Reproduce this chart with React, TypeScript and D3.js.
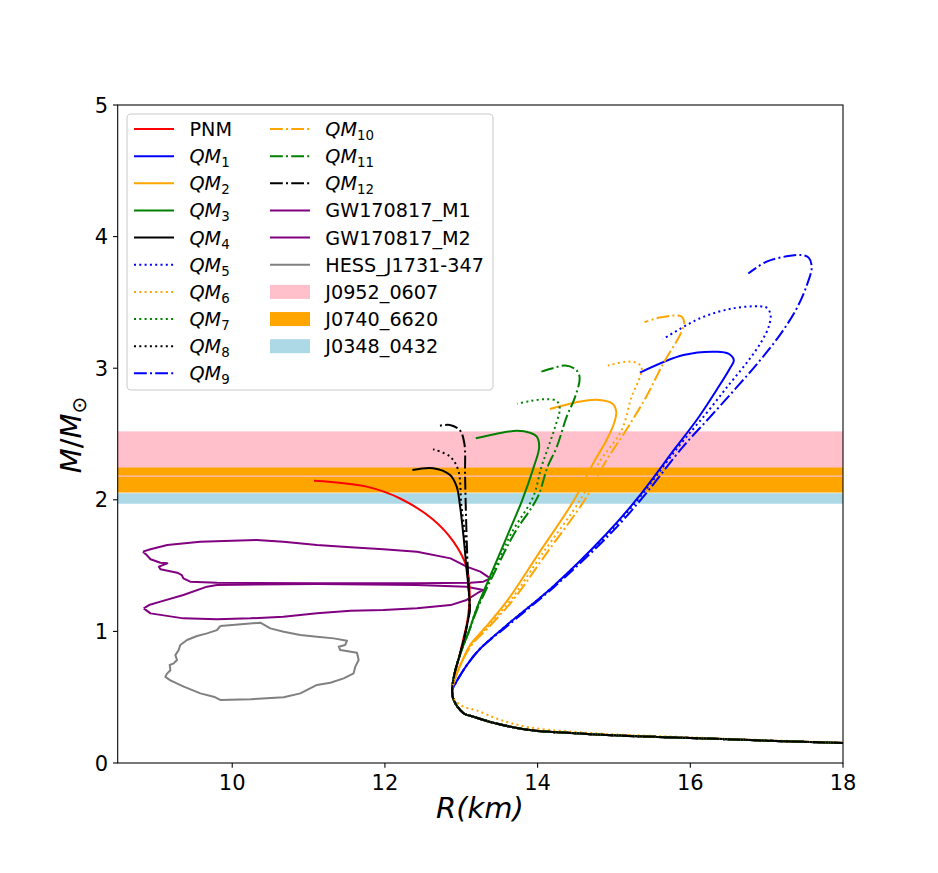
import React, { useEffect } from 'react';
import * as d3 from 'd3';

type P = [number, number];

const W = 938, H = 873;
const PL = 117.7, PR = 843, PT = 105, PB = 763;

const xDomain: P = [8.5, 18];
const yDomain: P = [0, 5];
const xTicks = [10, 12, 14, 16, 18];
const yTicks = [0, 1, 2, 3, 4, 5];

// common low-mass branch (R, M), from large R to the nose
const tail: P[] = [[18.6, 0.142], [18.0, 0.152], [17.0, 0.17], [16.0, 0.19], [15.0, 0.21], [14.5, 0.226], [13.9, 0.25], [13.46, 0.30], [13.16, 0.352], [13.03, 0.378], [12.9, 0.479], [12.88, 0.55]];
const tailQM6: P[] = [[18.6, 0.145], [18.0, 0.155], [17.0, 0.173], [16.0, 0.195], [15.0, 0.218], [14.5, 0.236], [13.9, 0.27], [13.5, 0.33], [13.2, 0.4], [13.02, 0.43], [12.9, 0.49], [12.88, 0.55]];

const pnm: P[] = [[11.07, 2.145], [11.76, 2.10], [12.2, 2.01], [12.63, 1.85], [12.9, 1.68], [13.07, 1.49], [13.11, 1.3], [13.08, 1.08], [13.03, 0.95], [12.97, 0.8], [12.92, 0.68], [12.88, 0.55]];

const qm1: P[] = [[12.92, 0.6], [12.98, 0.66], [13.08, 0.75], [13.25, 0.87], [13.58, 1.04], [14.2, 1.34], [14.9, 1.74], [15.32, 2.02], [15.8, 2.39], [16.1, 2.62], [16.35, 2.84], [16.52, 3.0], [16.57, 3.06], [16.5, 3.11], [16.35, 3.125], [15.91, 3.10], [15.34, 2.966]];
const qm5: P[] = [[12.92, 0.6], [12.98, 0.66], [13.08, 0.75], [13.25, 0.87], [13.58, 1.04], [14.2, 1.34], [14.92, 1.74], [15.34, 2.02], [15.84, 2.4], [16.2, 2.65], [16.5, 2.87], [16.75, 3.05], [16.93, 3.2], [17.03, 3.32], [17.05, 3.41], [17.0, 3.46], [16.91, 3.47], [16.56, 3.455], [16.13, 3.38], [15.64, 3.22]];
const qm9: P[] = [[12.92, 0.6], [12.98, 0.66], [13.08, 0.75], [13.25, 0.87], [13.6, 1.04], [14.22, 1.34], [14.95, 1.74], [15.38, 2.02], [15.9, 2.4], [16.26, 2.63], [16.6, 2.85], [16.9, 3.05], [17.17, 3.25], [17.38, 3.44], [17.52, 3.62], [17.59, 3.77], [17.55, 3.84], [17.45, 3.86], [17.26, 3.85], [17.0, 3.81], [16.76, 3.72]];

const qm2: P[] = [[12.93, 0.66], [13.0, 0.76], [13.12, 0.9], [13.3, 1.02], [13.61, 1.24], [14.0, 1.58], [14.48, 2.0], [14.73, 2.28], [14.9, 2.45], [15.0, 2.58], [15.03, 2.67], [14.98, 2.73], [14.77, 2.76], [14.5, 2.74], [14.16, 2.69]];
const qm6: P[] = [[12.93, 0.66], [13.0, 0.76], [13.13, 0.9], [13.32, 1.02], [13.65, 1.24], [14.05, 1.58], [14.58, 2.02], [14.8, 2.28], [15.1, 2.53], [15.23, 2.78], [15.35, 2.95], [15.36, 3.01], [15.3, 3.04], [15.17, 3.05], [14.92, 3.02]];
const qm10: P[] = [[12.93, 0.66], [13.0, 0.76], [13.14, 0.9], [13.34, 1.02], [13.68, 1.24], [14.1, 1.58], [14.64, 2.02], [14.88, 2.28], [15.16, 2.53], [15.42, 2.78], [15.65, 3.04], [15.88, 3.27], [15.92, 3.35], [15.88, 3.395], [15.78, 3.40], [15.6, 3.385], [15.4, 3.35]];

const qm3: P[] = [[12.92, 0.7], [13.0, 0.85], [13.1, 1.0], [13.2, 1.17], [13.43, 1.49], [13.62, 1.75], [13.8, 2.0], [13.95, 2.25], [14.02, 2.4], [13.99, 2.48], [13.9, 2.51], [13.73, 2.525], [13.45, 2.5], [13.19, 2.467]];
const qm7: P[] = [[12.92, 0.7], [13.0, 0.85], [13.1, 1.0], [13.2, 1.17], [13.45, 1.49], [13.66, 1.75], [13.94, 2.02], [14.05, 2.25], [14.14, 2.40], [14.23, 2.556], [14.29, 2.695], [14.25, 2.75], [14.1, 2.765], [13.9, 2.75], [13.73, 2.73]];
const qm11: P[] = [[12.92, 0.7], [13.0, 0.85], [13.1, 1.0], [13.21, 1.17], [13.47, 1.49], [13.7, 1.75], [14.0, 2.02], [14.13, 2.25], [14.25, 2.40], [14.38, 2.63], [14.49, 2.78], [14.55, 2.93], [14.5, 2.99], [14.36, 3.02], [14.2, 3.0], [14.05, 2.974]];

const qm4: P[] = [[12.92, 0.7], [12.98, 0.82], [13.04, 0.95], [13.08, 1.06], [13.11, 1.16], [13.1, 1.3], [13.07, 1.47], [13.03, 1.72], [12.98, 1.97], [12.94, 2.10], [12.85, 2.19], [12.63, 2.24], [12.36, 2.226]];
const qm8: P[] = [[12.92, 0.7], [12.98, 0.82], [13.04, 0.95], [13.08, 1.06], [13.11, 1.16], [13.1, 1.3], [13.08, 1.47], [13.05, 1.72], [13.0, 1.97], [12.96, 2.226], [12.85, 2.33], [12.63, 2.384]];
const qm12: P[] = [[12.92, 0.7], [12.98, 0.82], [13.04, 0.95], [13.08, 1.06], [13.11, 1.16], [13.1, 1.3], [13.08, 1.55], [13.06, 1.92], [13.05, 2.18], [13.04, 2.43], [12.98, 2.53], [12.85, 2.568], [12.7, 2.561]];

const gwM1: P[] = [[8.83, 1.606], [8.93, 1.624], [9.15, 1.657], [9.58, 1.682], [10.32, 1.695], [10.67, 1.682], [11.11, 1.657], [11.55, 1.639], [11.98, 1.624], [12.42, 1.606], [12.86, 1.555], [13.07, 1.492], [13.25, 1.454], [13.38, 1.403], [13.29, 1.378], [13.12, 1.37], [12.42, 1.365], [11.11, 1.365], [9.8, 1.37], [9.45, 1.378], [9.36, 1.403], [9.34, 1.428], [9.28, 1.446], [9.06, 1.472], [9.04, 1.492], [9.15, 1.517], [9.06, 1.522], [8.93, 1.548], [8.88, 1.58], [8.83, 1.606]];
const gwM2: P[] = [[8.84, 1.175], [8.91, 1.2], [9.06, 1.226], [9.36, 1.277], [9.67, 1.34], [9.8, 1.353], [11.11, 1.36], [12.42, 1.353], [13.07, 1.34], [13.29, 1.315], [13.21, 1.29], [13.07, 1.239], [12.86, 1.2], [12.42, 1.175], [11.98, 1.163], [11.55, 1.157], [11.11, 1.137], [10.67, 1.112], [10.24, 1.099], [9.8, 1.092], [9.36, 1.099], [8.93, 1.137], [8.84, 1.175]];
const hess: P[] = [[9.844, 1.041], [10.368, 1.066], [10.499, 1.023], [10.674, 0.998], [10.892, 0.973], [11.11, 0.96], [11.33, 0.947], [11.503, 0.929], [11.48, 0.897], [11.395, 0.884], [11.415, 0.859], [11.634, 0.838], [11.656, 0.783], [11.612, 0.732], [11.59, 0.681], [11.46, 0.643], [11.285, 0.61], [11.11, 0.593], [10.892, 0.529], [10.674, 0.499], [10.24, 0.484], [9.844, 0.479], [9.757, 0.504], [9.583, 0.529], [9.365, 0.58], [9.19, 0.628], [9.124, 0.654], [9.146, 0.679], [9.19, 0.705], [9.181, 0.745], [9.233, 0.757], [9.277, 0.783], [9.255, 0.82], [9.299, 0.859], [9.32, 0.897], [9.408, 0.935], [9.539, 0.965], [9.67, 0.985], [9.8, 1.01], [9.844, 1.041]];

// mass bands [low, high]
const bandJ0952: P = [2.18, 2.52];
const bandJ0740: P = [2.055, 2.245];
const bandJ0348: P = [1.97, 2.05];

const C = { red: '#ff0000', blue: '#0000ff', orange: '#ffa500', green: '#008000', black: '#000000', purple: '#800080', gray: '#808080', pink: '#ffc0cb', lightblue: '#add8e6' };
const DOT = '2,3.3';
const DASHDOT = '12.8,3.2,2,3.2';

interface Series { label: string; sub?: string; data: P[]; color: string; dash?: string; }

const series: Series[] = [
  { label: 'PNM', data: [...tail.slice(0, -1), ...pnm.slice().reverse()], color: C.red },
  { label: 'QM', sub: '1', data: [...tail, ...qm1], color: C.blue },
  { label: 'QM', sub: '2', data: [...tail, ...qm2], color: C.orange },
  { label: 'QM', sub: '3', data: [...tail, ...qm3], color: C.green },
  { label: 'QM', sub: '4', data: [...tail, ...qm4], color: C.black },
  { label: 'QM', sub: '5', data: [...tail, ...qm5], color: C.blue, dash: DOT },
  { label: 'QM', sub: '6', data: [...tailQM6, ...qm6], color: C.orange, dash: DOT },
  { label: 'QM', sub: '7', data: [...tail, ...qm7], color: C.green, dash: DOT },
  { label: 'QM', sub: '8', data: [...tail, ...qm8], color: C.black, dash: DOT },
  { label: 'QM', sub: '9', data: [...tail, ...qm9], color: C.blue, dash: DASHDOT },
  { label: 'QM', sub: '10', data: [...tail, ...qm10], color: C.orange, dash: DASHDOT },
  { label: 'QM', sub: '11', data: [...tail, ...qm11], color: C.green, dash: DASHDOT },
  { label: 'QM', sub: '12', data: [...tail, ...qm12], color: C.black, dash: DASHDOT },
];

const contours = [
  { label: 'GW170817_M1', data: gwM1, color: C.purple },
  { label: 'GW170817_M2', data: gwM2, color: C.purple },
  { label: 'HESS_J1731-347', data: hess, color: C.gray },
];

const bands = [
  { label: 'J0952_0607', range: bandJ0952, color: C.pink },
  { label: 'J0740_6620', range: bandJ0740, color: C.orange },
  { label: 'J0348_0432', range: bandJ0348, color: C.lightblue },
];

const FONT = 'DejaVu Sans, sans-serif';

export default function App() {
  useEffect(() => { document.body.style.margin = '0'; }, []);
  const x = d3.scaleLinear().domain(xDomain).range([PL, PR]);
  const y = d3.scaleLinear().domain(yDomain).range([PB, PT]);
  const line = d3.line<P>().x(d => x(d[0])).y(d => y(d[1])).curve(d3.curveCatmullRom.alpha(0.5));
  const lineLin = d3.line<P>().x(d => x(d[0])).y(d => y(d[1]));

  const legendItems: { kind: 'line' | 'patch'; label: string; sub?: string; color: string; dash?: string }[] = [
    ...series.map(s => ({ kind: 'line' as const, label: s.label, sub: s.sub, color: s.color, dash: s.dash })),
    ...contours.map(c => ({ kind: 'line' as const, label: c.label, color: c.color })),
    ...bands.map(b => ({ kind: 'patch' as const, label: b.label, color: b.color })),
  ];
  const rowsPerCol = 10;
  const rowY = (i: number) => 129 + i * 27.15;

  return (
    <svg width={W} height={H} style={{ display: 'block' }} xmlns="http://www.w3.org/2000/svg">
      <rect x={0} y={0} width={W} height={H} fill="#fff" />
      <defs>
        <clipPath id="plot"><rect x={PL} y={PT} width={PR - PL} height={PB - PT} /></clipPath>
      </defs>
      <g clipPath="url(#plot)">
        {bands.map(b => (
          <rect key={b.label} x={PL} width={PR - PL} y={y(b.range[1])} height={y(b.range[0]) - y(b.range[1])} fill={b.color} />
        ))}
        <line x1={PL} x2={PR} y1={y(bandJ0952[0])} y2={y(bandJ0952[0])} stroke={C.pink} strokeWidth={1.3} />
        {contours.map(c => (
          <path key={c.label} d={lineLin(c.data) || ''} fill="none" stroke={c.color} strokeWidth={2} strokeLinejoin="round" />
        ))}
        {series.map((s, i) => (
          <path key={i} d={line(s.data) || ''} fill="none" stroke={s.color} strokeWidth={2} strokeDasharray={s.dash} />
        ))}
      </g>
      <rect x={PL} y={PT} width={PR - PL} height={PB - PT} fill="none" stroke="#000" strokeWidth={1.07} />
      {xTicks.map(t => (
        <g key={'x' + t}>
          <line x1={x(t)} x2={x(t)} y1={PB} y2={PB + 4.7} stroke="#000" strokeWidth={1.07} />
          <text x={x(t)} y={PB + 27} fontFamily={FONT} fontSize={21} textAnchor="middle">{t}</text>
        </g>
      ))}
      {yTicks.map(t => (
        <g key={'y' + t}>
          <line x1={PL - 4.7} x2={PL} y1={y(t)} y2={y(t)} stroke="#000" strokeWidth={1.07} />
          <text x={PL - 9.5} y={y(t) + 7.6} fontFamily={FONT} fontSize={21} textAnchor="end">{t}</text>
        </g>
      ))}
      <text x={480} y={818} fontFamily={FONT} fontSize={29} fontStyle="italic" textAnchor="middle">R(km)</text>
      <g transform="translate(81,435) rotate(-90)">
        <text x={0} y={0} fontFamily={FONT} fontSize={29} textAnchor="middle">
          <tspan fontStyle="italic">M</tspan><tspan>/</tspan><tspan fontStyle="italic">M</tspan><tspan fontSize={20} dy={5}>⊙</tspan>
        </text>
      </g>
      <rect x={127} y={114} width={366} height={276} rx={4} fill="#fff" fillOpacity={0.8} stroke="#cccccc" strokeWidth={1.07} />
      {legendItems.map((it, i) => {
        const col = i < rowsPerCol ? 0 : 1;
        const row = col === 0 ? i : i - rowsPerCol;
        const cy = rowY(row);
        const lx = col === 0 ? 134 : 270;
        const tx = col === 0 ? 189.5 : 325.3;
        return (
          <g key={'lg' + i}>
            {it.kind === 'line'
              ? <line x1={lx} x2={lx + 40} y1={cy} y2={cy} stroke={it.color} strokeWidth={2} strokeDasharray={it.dash} />
              : <rect x={lx} y={cy - 7} width={40} height={14} fill={it.color} />}
            <text x={tx} y={cy + 7} fontFamily={FONT} fontSize={19.2}>
              {it.sub
                ? <><tspan fontStyle="italic">{it.label}</tspan><tspan fontSize={13.4} dy={4}>{it.sub}</tspan></>
                : it.label}
            </text>
          </g>
        );
      })}
    </svg>
  );
}
